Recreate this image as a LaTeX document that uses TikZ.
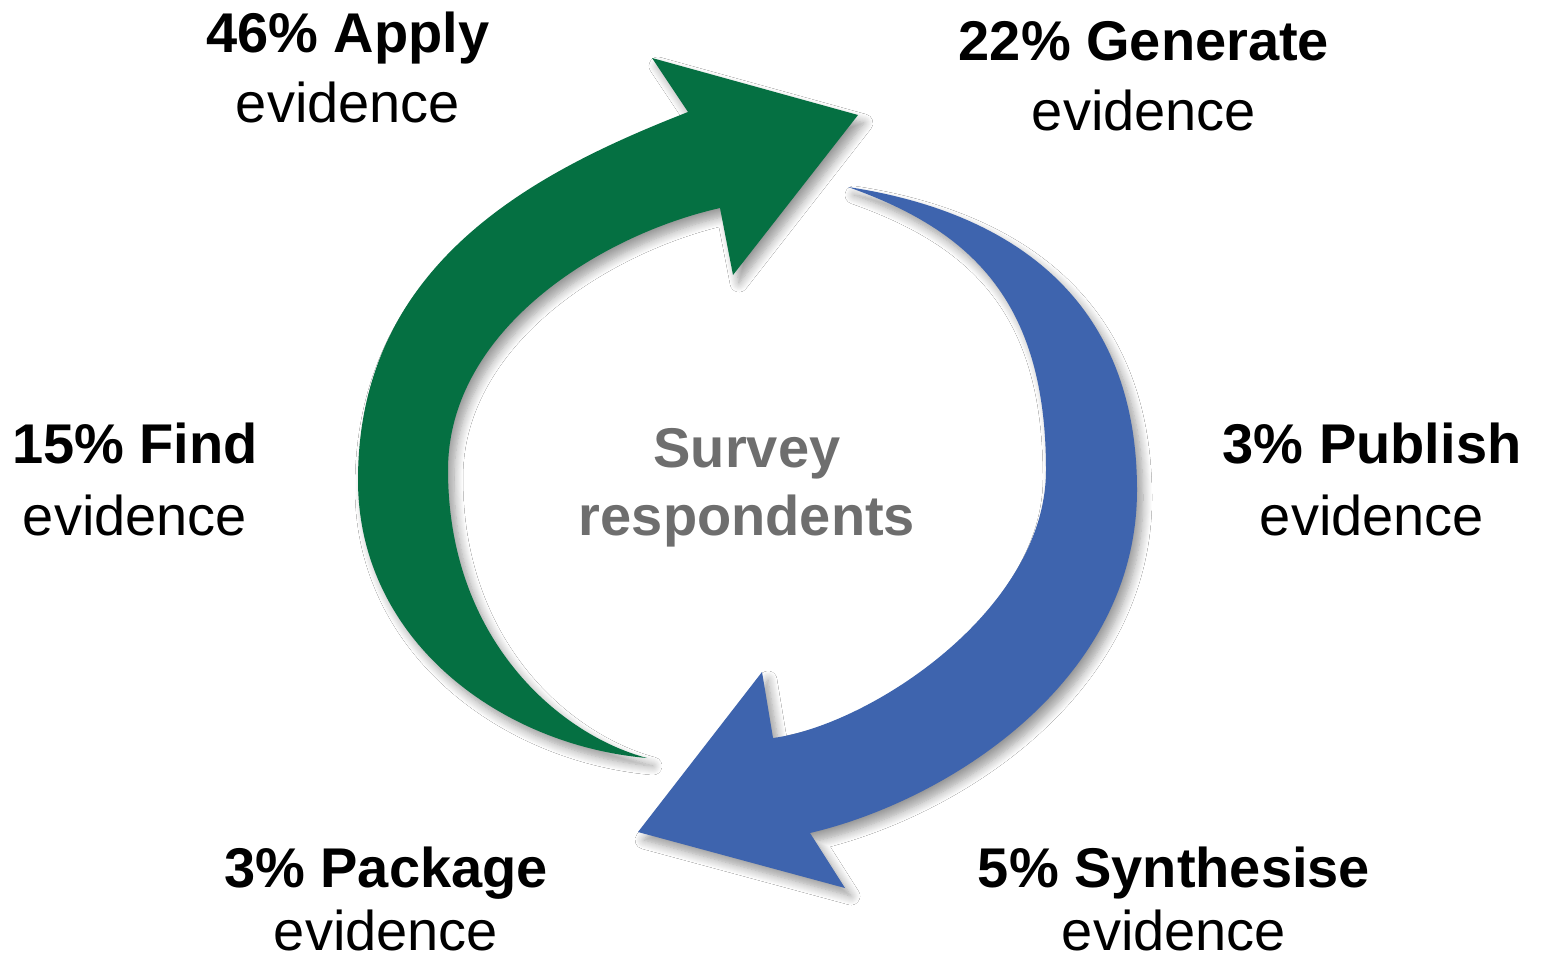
\documentclass[tikz,border=0pt]{standalone}
\usepackage{fontspec}
\setmainfont{Liberation Sans}
\usetikzlibrary{shadows.blur}
\definecolor{arrowgreen}{RGB}{5,112,66}
\definecolor{arrowblue}{RGB}{62,100,174}
\definecolor{centregray}{RGB}{110,110,110}
\tikzset{
  lblbold/.style={anchor=base, inner sep=0pt, font=\fontsize{56}{67}\selectfont\bfseries},
  lblreg/.style={anchor=base, inner sep=0pt, font=\fontsize{56}{67}\selectfont},
  centrelbl/.style={anchor=base, inner sep=0pt, text=centregray, font=\fontsize{56}{67}\selectfont\bfseries},
  arrowshadow/.style={blur shadow={shadow xshift=6pt, shadow yshift=-8pt, shadow blur radius=9pt, shadow blur steps=10, shadow opacity=40}},
  greenarrow/.style={fill=arrowgreen, arrowshadow},
  bluearrow/.style={fill=arrowblue, arrowshadow}
}
\begin{document}
\begin{tikzpicture}[x=1pt, y=-1pt]
\fill[white] (0,0) rectangle (1550,962);
\useasboundingbox (0,0) rectangle (1550,962);

% green arrow (Find -> Apply -> Generate)
\fill[greenarrow]
  (647,758) .. controls (500,745) and (358,640) .. (358,480)
  .. controls (358,260) and (540,170) .. (688,112)
  -- (652,58) -- (858,115) -- (733,275) -- (720,208)
  .. controls (600,235) and (448,330) .. (448,470)
  .. controls (448,640) and (560,735) .. (647,758)
  -- cycle;

% blue arrow (Publish -> Synthesise -> Package)
\fill[bluearrow]
  (848,187) .. controls (1000,210) and (1137,290) .. (1137,490)
  .. controls (1137,680) and (950,800) .. (810,833)
  -- (845,888) -- (638,832) -- (762,672) -- (773,738)
  .. controls (870,725) and (1046,610) .. (1046,470)
  .. controls (1046,300) and (970,230) .. (848,187)
  -- cycle;

% labels
\node[lblbold] (apply) at (348,52) {46\% Apply};
\node[lblreg] (applyev) at (348,122) {evidence};
\node[lblbold] (generate) at (1144,60) {22\% Generate};
\node[lblreg] (generateev) at (1144,130) {evidence};
\node[lblbold] (find) at (135,463) {15\% Find};
\node[lblreg] (findev) at (135,535) {evidence};
\node[lblbold] (publish) at (1372,463) {3\% Publish};
\node[lblreg] (publishev) at (1372,535) {evidence};
\node[lblbold] (package) at (386,887) {3\% Package};
\node[lblreg] (packageev) at (386,950) {evidence};
\node[lblbold] (synth) at (1174,887) {5\% Synthesise};
\node[lblreg] (synthev) at (1174,950) {evidence};
\node[centrelbl] (survey) at (747,467) {Survey};
\node[centrelbl] (resp) at (747,535) {respondents};
\end{tikzpicture}
\end{document}
